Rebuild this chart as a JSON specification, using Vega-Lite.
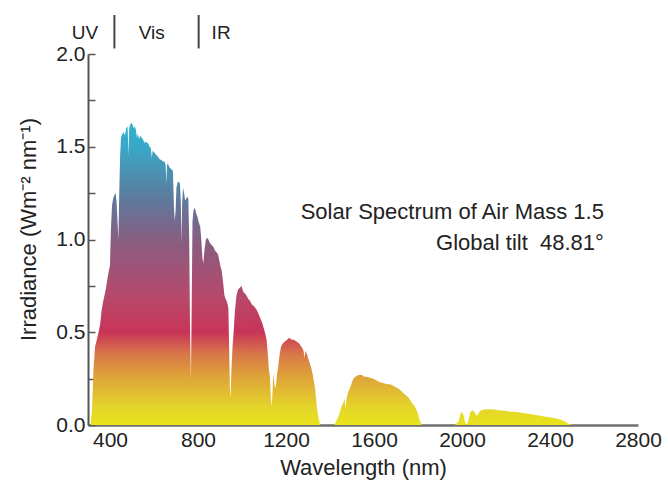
{
  "$schema": "https://vega.github.io/schema/vega-lite/v6.json",
  "width": 550,
  "height": 371,
  "autosize": {"type": "none"},
  "padding": {"left": 88, "top": 54, "right": 30, "bottom": 62},
  "config": {
    "view": {"stroke": null},
    "font": "Liberation Sans",
    "axis": {"grid": false, "labelColor": "#222", "titleColor": "#222", "titleFontWeight": "normal", "labelFont": "Liberation Sans", "titleFont": "Liberation Sans"}
  },
  "datasets": {
    "spectrum": [
      {"wl": 300, "irr": 0}, {"wl": 312, "irr": 0}, {"wl": 318, "irr": 0.08}, {"wl": 325, "irr": 0.3}, {"wl": 332, "irr": 0.42},
      {"wl": 340, "irr": 0.46}, {"wl": 348, "irr": 0.5}, {"wl": 355, "irr": 0.54}, {"wl": 362, "irr": 0.62}, {"wl": 368, "irr": 0.66},
      {"wl": 375, "irr": 0.7}, {"wl": 382, "irr": 0.74}, {"wl": 390, "irr": 0.8}, {"wl": 396, "irr": 0.84}, {"wl": 400, "irr": 0.86},
      {"wl": 404, "irr": 1.05}, {"wl": 409, "irr": 1.18}, {"wl": 414, "irr": 1.22}, {"wl": 420, "irr": 1.24}, {"wl": 426, "irr": 1.25},
      {"wl": 430, "irr": 1.2}, {"wl": 434, "irr": 1.1}, {"wl": 438, "irr": 1.0}, {"wl": 442, "irr": 1.25}, {"wl": 446, "irr": 1.45},
      {"wl": 450, "irr": 1.55}, {"wl": 456, "irr": 1.57}, {"wl": 462, "irr": 1.58}, {"wl": 468, "irr": 1.56}, {"wl": 474, "irr": 1.6},
      {"wl": 480, "irr": 1.61}, {"wl": 484, "irr": 1.45}, {"wl": 487, "irr": 1.6}, {"wl": 492, "irr": 1.62}, {"wl": 497, "irr": 1.63},
      {"wl": 502, "irr": 1.62}, {"wl": 507, "irr": 1.6}, {"wl": 512, "irr": 1.61}, {"wl": 518, "irr": 1.59}, {"wl": 522, "irr": 1.55},
      {"wl": 527, "irr": 1.57}, {"wl": 532, "irr": 1.54}, {"wl": 537, "irr": 1.56}, {"wl": 543, "irr": 1.55}, {"wl": 550, "irr": 1.54},
      {"wl": 556, "irr": 1.52}, {"wl": 562, "irr": 1.53}, {"wl": 568, "irr": 1.52}, {"wl": 573, "irr": 1.52}, {"wl": 580, "irr": 1.5},
      {"wl": 586, "irr": 1.49}, {"wl": 590, "irr": 1.44}, {"wl": 594, "irr": 1.48}, {"wl": 600, "irr": 1.47}, {"wl": 608, "irr": 1.46},
      {"wl": 615, "irr": 1.45}, {"wl": 622, "irr": 1.44}, {"wl": 628, "irr": 1.43}, {"wl": 633, "irr": 1.43}, {"wl": 640, "irr": 1.42},
      {"wl": 648, "irr": 1.42}, {"wl": 653, "irr": 1.4}, {"wl": 656, "irr": 1.3}, {"wl": 659, "irr": 1.4}, {"wl": 663, "irr": 1.41},
      {"wl": 670, "irr": 1.39}, {"wl": 678, "irr": 1.38}, {"wl": 686, "irr": 1.37}, {"wl": 690, "irr": 1.2}, {"wl": 694, "irr": 1.1},
      {"wl": 698, "irr": 1.15}, {"wl": 702, "irr": 1.28}, {"wl": 708, "irr": 1.31}, {"wl": 714, "irr": 1.31}, {"wl": 718, "irr": 1.3},
      {"wl": 722, "irr": 1.2}, {"wl": 725, "irr": 0.98}, {"wl": 728, "irr": 1.2}, {"wl": 732, "irr": 1.28}, {"wl": 738, "irr": 1.24},
      {"wl": 741, "irr": 1.21}, {"wl": 746, "irr": 1.22}, {"wl": 752, "irr": 1.23}, {"wl": 756, "irr": 1.22}, {"wl": 760, "irr": 1.0},
      {"wl": 764, "irr": 0.5}, {"wl": 768, "irr": 0.24}, {"wl": 771, "irr": 0.6}, {"wl": 775, "irr": 1.1}, {"wl": 780, "irr": 1.16},
      {"wl": 786, "irr": 1.17}, {"wl": 792, "irr": 1.14}, {"wl": 798, "irr": 1.12}, {"wl": 804, "irr": 1.09}, {"wl": 810, "irr": 1.07},
      {"wl": 815, "irr": 1.0}, {"wl": 820, "irr": 0.9}, {"wl": 824, "irr": 0.87}, {"wl": 830, "irr": 0.95}, {"wl": 836, "irr": 1.0},
      {"wl": 842, "irr": 1.01}, {"wl": 847, "irr": 1.0}, {"wl": 855, "irr": 0.98}, {"wl": 862, "irr": 0.97}, {"wl": 870, "irr": 0.96},
      {"wl": 878, "irr": 0.94}, {"wl": 885, "irr": 0.93}, {"wl": 891, "irr": 0.92}, {"wl": 898, "irr": 0.88}, {"wl": 903, "irr": 0.85},
      {"wl": 908, "irr": 0.83}, {"wl": 915, "irr": 0.76}, {"wl": 920, "irr": 0.7}, {"wl": 925, "irr": 0.68}, {"wl": 930, "irr": 0.67},
      {"wl": 935, "irr": 0.65}, {"wl": 938, "irr": 0.63}, {"wl": 941, "irr": 0.45}, {"wl": 945, "irr": 0.19}, {"wl": 948, "irr": 0.15},
      {"wl": 952, "irr": 0.3}, {"wl": 957, "irr": 0.42}, {"wl": 962, "irr": 0.5}, {"wl": 968, "irr": 0.62}, {"wl": 975, "irr": 0.7},
      {"wl": 982, "irr": 0.73}, {"wl": 990, "irr": 0.74}, {"wl": 998, "irr": 0.75}, {"wl": 1005, "irr": 0.72}, {"wl": 1012, "irr": 0.71},
      {"wl": 1020, "irr": 0.7}, {"wl": 1028, "irr": 0.68}, {"wl": 1036, "irr": 0.67}, {"wl": 1045, "irr": 0.65}, {"wl": 1055, "irr": 0.64},
      {"wl": 1067, "irr": 0.62}, {"wl": 1075, "irr": 0.6}, {"wl": 1085, "irr": 0.57}, {"wl": 1092, "irr": 0.55}, {"wl": 1097, "irr": 0.53},
      {"wl": 1104, "irr": 0.5}, {"wl": 1112, "irr": 0.46}, {"wl": 1118, "irr": 0.37}, {"wl": 1122, "irr": 0.3}, {"wl": 1127, "irr": 0.26},
      {"wl": 1131, "irr": 0.15}, {"wl": 1135, "irr": 0.1}, {"wl": 1139, "irr": 0.18}, {"wl": 1142, "irr": 0.28}, {"wl": 1147, "irr": 0.22},
      {"wl": 1153, "irr": 0.2}, {"wl": 1158, "irr": 0.26}, {"wl": 1164, "irr": 0.31}, {"wl": 1170, "irr": 0.37}, {"wl": 1177, "irr": 0.42},
      {"wl": 1185, "irr": 0.44}, {"wl": 1195, "irr": 0.45}, {"wl": 1205, "irr": 0.46}, {"wl": 1215, "irr": 0.47}, {"wl": 1226, "irr": 0.46},
      {"wl": 1235, "irr": 0.46}, {"wl": 1248, "irr": 0.45}, {"wl": 1260, "irr": 0.44}, {"wl": 1271, "irr": 0.42}, {"wl": 1280, "irr": 0.4},
      {"wl": 1284, "irr": 0.36}, {"wl": 1288, "irr": 0.4}, {"wl": 1296, "irr": 0.38}, {"wl": 1303, "irr": 0.35}, {"wl": 1309, "irr": 0.33},
      {"wl": 1316, "irr": 0.3}, {"wl": 1322, "irr": 0.27}, {"wl": 1332, "irr": 0.2}, {"wl": 1340, "irr": 0.1}, {"wl": 1347, "irr": 0.04},
      {"wl": 1355, "irr": 0}, {"wl": 1420, "irr": 0}, {"wl": 1428, "irr": 0.02}, {"wl": 1440, "irr": 0.05}, {"wl": 1452, "irr": 0.1},
      {"wl": 1460, "irr": 0.12}, {"wl": 1466, "irr": 0.14}, {"wl": 1470, "irr": 0.09}, {"wl": 1475, "irr": 0.14}, {"wl": 1483, "irr": 0.18},
      {"wl": 1491, "irr": 0.2}, {"wl": 1500, "irr": 0.23}, {"wl": 1506, "irr": 0.25}, {"wl": 1515, "irr": 0.26}, {"wl": 1529, "irr": 0.27},
      {"wl": 1545, "irr": 0.27}, {"wl": 1556, "irr": 0.26}, {"wl": 1567, "irr": 0.26}, {"wl": 1580, "irr": 0.255}, {"wl": 1597, "irr": 0.25},
      {"wl": 1612, "irr": 0.24}, {"wl": 1627, "irr": 0.23}, {"wl": 1645, "irr": 0.225}, {"wl": 1660, "irr": 0.22}, {"wl": 1673, "irr": 0.22},
      {"wl": 1690, "irr": 0.21}, {"wl": 1705, "irr": 0.2}, {"wl": 1718, "irr": 0.19}, {"wl": 1735, "irr": 0.17}, {"wl": 1756, "irr": 0.15},
      {"wl": 1772, "irr": 0.12}, {"wl": 1786, "irr": 0.1}, {"wl": 1800, "irr": 0.06}, {"wl": 1809, "irr": 0.02}, {"wl": 1818, "irr": 0},
      {"wl": 1968, "irr": 0}, {"wl": 1985, "irr": 0.02}, {"wl": 1993, "irr": 0.06}, {"wl": 1998, "irr": 0.07}, {"wl": 2005, "irr": 0.06},
      {"wl": 2013, "irr": 0.02}, {"wl": 2021, "irr": 0}, {"wl": 2028, "irr": 0.02}, {"wl": 2038, "irr": 0.07}, {"wl": 2048, "irr": 0.08},
      {"wl": 2056, "irr": 0.07}, {"wl": 2066, "irr": 0.05}, {"wl": 2074, "irr": 0.06}, {"wl": 2082, "irr": 0.075}, {"wl": 2089, "irr": 0.08},
      {"wl": 2100, "irr": 0.083}, {"wl": 2115, "irr": 0.085}, {"wl": 2127, "irr": 0.085}, {"wl": 2145, "irr": 0.083}, {"wl": 2165, "irr": 0.08},
      {"wl": 2185, "irr": 0.078}, {"wl": 2203, "irr": 0.075}, {"wl": 2225, "irr": 0.072}, {"wl": 2250, "irr": 0.07}, {"wl": 2279, "irr": 0.065},
      {"wl": 2300, "irr": 0.06}, {"wl": 2330, "irr": 0.055}, {"wl": 2355, "irr": 0.05}, {"wl": 2380, "irr": 0.045}, {"wl": 2405, "irr": 0.04},
      {"wl": 2430, "irr": 0.035}, {"wl": 2455, "irr": 0.025}, {"wl": 2475, "irr": 0.015}, {"wl": 2483, "irr": 0.005}, {"wl": 2506, "irr": 0}
    ],
    "bands": [
      {"wl": 286, "irr": 2.115, "label": "UV"},
      {"wl": 590, "irr": 2.115, "label": "Vis"},
      {"wl": 905, "irr": 2.115, "label": "IR"}
    ],
    "dividers": [
      {"wl": 420, "irr": 2.03, "irr2": 2.21},
      {"wl": 803, "irr": 2.03, "irr2": 2.21}
    ],
    "note": [
      {"wl": 2645, "irr": 1.148, "label": "Solar Spectrum of Air Mass 1.5"},
      {"wl": 2645, "irr": 0.98, "label": "Global tilt \u00a048.81°"}
    ]
  },
  "encoding": {
    "x": {
      "field": "wl", "type": "quantitative",
      "scale": {"domain": [300, 2800], "nice": false, "zero": false},
      "axis": {
        "title": "Wavelength (nm)", "values": [400, 800, 1200, 1600, 2000, 2400, 2800], "format": "d",
        "ticks": false, "domainColor": "#6e6e6e", "domainWidth": 2.5,
        "labelFontSize": 21, "labelPadding": 4, "labelFlush": false,
        "titleFontSize": 22, "titlePadding": 7
      }
    },
    "y": {
      "field": "irr", "type": "quantitative",
      "scale": {"domain": [0, 2], "nice": false},
      "axis": {
        "title": "Irradiance (Wm⁻² nm⁻¹)",
        "values": [0, 0.25, 0.5, 0.75, 1, 1.25, 1.5, 1.75, 2],
        "labelExpr": "(datum.value * 2) % 1 == 0 ? format(datum.value, '.1f') : ''",
        "tickSize": -7, "tickColor": "#555", "tickWidth": 1.5,
        "domainColor": "#555", "domainWidth": 2,
        "labelFontSize": 21, "labelPadding": 10, "labelOverlap": false, "labelFlush": false,
        "titleFontSize": 22, "titlePadding": 15, "titleY": 175
      }
    }
  },
  "layer": [
    {
      "data": {"name": "spectrum"},
      "mark": {
        "type": "area",
        "color": {
          "gradient": "linear", "x1": 0, "y1": 1, "x2": 0, "y2": 0,
          "stops": [
            {"offset": 0, "color": "#e8e41c"},
            {"offset": 0.06, "color": "#e4d42a"},
            {"offset": 0.166, "color": "#dea03a"},
            {"offset": 0.233, "color": "#d87848"},
            {"offset": 0.307, "color": "#c83458"},
            {"offset": 0.417, "color": "#b8486a"},
            {"offset": 0.601, "color": "#8a5c80"},
            {"offset": 0.748, "color": "#5e7a9c"},
            {"offset": 0.914, "color": "#3aa6c6"},
            {"offset": 1, "color": "#2eb4d0"}
          ]
        }
      }
    },
    {
      "data": {"name": "bands"},
      "mark": {"type": "text", "fontSize": 19, "color": "#222", "baseline": "middle", "align": "center"},
      "encoding": {"text": {"field": "label"}}
    },
    {
      "data": {"name": "dividers"},
      "mark": {"type": "rule", "strokeWidth": 2, "color": "#444"},
      "encoding": {"y2": {"field": "irr2"}}
    },
    {
      "data": {"name": "note"},
      "mark": {"type": "text", "fontSize": 22, "color": "#222", "baseline": "middle", "align": "right"},
      "encoding": {"text": {"field": "label"}}
    }
  ]
}
